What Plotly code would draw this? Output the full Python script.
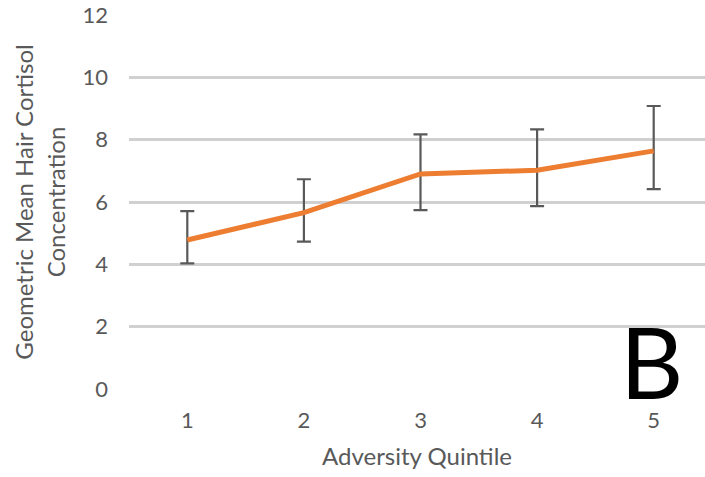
import plotly.graph_objects as go

quintiles = [1, 2, 3, 4, 5]
geo_mean = [4.78, 5.66, 6.90, 7.02, 7.64]
ci_upper = [5.71, 6.73, 8.17, 8.33, 9.08]
ci_lower = [4.03, 4.73, 5.74, 5.87, 6.41]
y_ticks = [0, 2, 4, 6, 8, 10, 12]

err_plus = [u - m for u, m in zip(ci_upper, geo_mean)]
err_minus = [m - l for m, l in zip(geo_mean, ci_lower)]

fig = go.Figure()
fig.add_trace(go.Scatter(
    x=quintiles, y=geo_mean, mode="lines",
    line=dict(color="#ED7D31", width=5),
    error_y=dict(type="data", symmetric=False, array=err_plus, arrayminus=err_minus,
                 color="#595959", thickness=2.2, width=7),
    showlegend=False,
))

fig.add_annotation(x=1, y=0, xref="paper", yref="paper", xanchor="right", yanchor="bottom",
                   text="B", showarrow=False, xshift=-20, yshift=-33,
                   font=dict(family="Lato, Liberation Sans, sans-serif", size=98, color="#000000"))

fig.update_layout(
    width=705, height=477,
    margin=dict(l=129, r=0, t=15, b=88),
    paper_bgcolor="white", plot_bgcolor="white",
    font=dict(family="Lato, Open Sans, sans-serif", color="#595959", size=22),
    xaxis=dict(range=[0.5, 5.44], tickvals=quintiles, ticktext=[str(q) for q in quintiles],
               showgrid=False, zeroline=False, showline=False, ticks="",
               ticklabelstandoff=16, automargin=False, ticklabeloverflow="allow",
               title=dict(text="Adversity Quintile", font=dict(size=24), standoff=16)),
    yaxis=dict(range=[0, 12], tickvals=y_ticks, showgrid=True, gridcolor="#d0d0d0", gridwidth=2.5,
               zeroline=False, showline=False, ticks="", ticklabelstandoff=20, automargin=False,
               ticklabeloverflow="allow",
               title=dict(text="Geometric Mean Hair Cortisol<br>Concentration", font=dict(size=24), standoff=10)),
)

fig.write_html("out.html", config={"displayModeBar": False},
               post_script="document.body.style.margin='0';document.body.style.overflow='hidden';")
